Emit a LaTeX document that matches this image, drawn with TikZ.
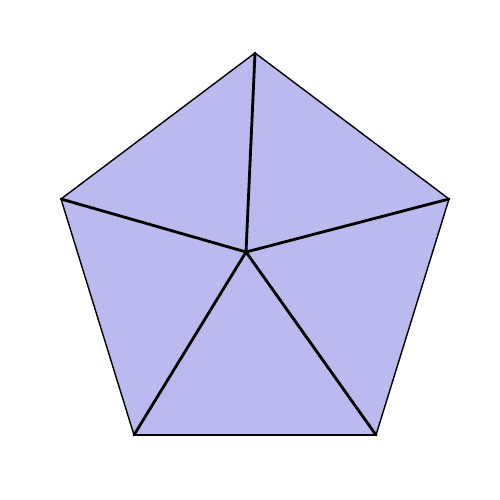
\documentclass[tikz,border=0pt]{standalone}
\usepackage{tikz}
\definecolor{facefill}{RGB}{186,186,238}
\tikzset{rim/.style={line width=0.8pt},spoke/.style={line width=1.6pt,line cap=round}}

\begin{document}
\begin{tikzpicture}
\useasboundingbox (0,0) rectangle (10,10);
\coordinate (top) at (5.10,8.94);
\coordinate (rt) at (8.98,6.02);
\coordinate (br) at (7.52,1.30);
\coordinate (bl) at (2.68,1.30);
\coordinate (lt) at (1.22,6.02);
\coordinate (c) at (4.92,4.96);
\fill[facefill] (top) -- (rt) -- (br) -- (bl) -- (lt) -- cycle;
\draw[rim] (bl) -- (lt) -- (top) -- (rt) -- (br);
\draw[spoke] (br) -- (bl);
\foreach \v in {top,rt,br,bl,lt} \draw[spoke] (c) -- (\v);
\end{tikzpicture}
\end{document}
